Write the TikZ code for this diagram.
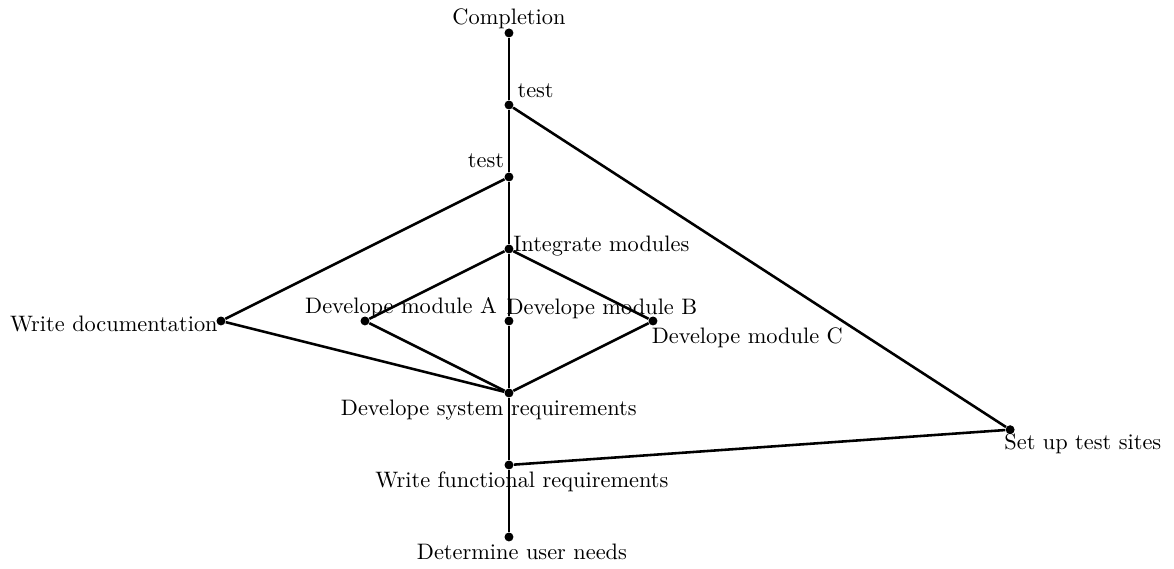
\documentclass[tikz,border=0pt]{standalone}
\usepackage{tikz}
\usetikzlibrary{positioning}

\tikzset{
  task/.style={circle, fill=black, inner sep=0pt, minimum size=4pt},
  tasklabel/.style={inner sep=0pt},
  link/.style={line width=1.15pt}
}

\begin{document}
\begin{tikzpicture}[x=1.1317cm, y=1.1317cm]
                    \useasboundingbox (-7.069,-0.444) rectangle (9.236,7.458);
                    % Task points
                    \node[task] (needs) at (0,0) {};
                    \node[task] (func) at (0,1) {};
                    \node[task] (sysreq) at (0,2) {};
                    \node[task] (modA) at (-2,3) {};
                    \node[task] (modB) at (0,3) {};
                    \node[task] (modC) at (2,3) {};
                    \node[task] (doc) at (-4,3) {};
                    \node[task] (sites) at (6.96,1.49) {};
                    \node[task] (integ) at (0,4) {};
                    \node[task] (testlo) at (0,5) {};
                    \node[task] (testhi) at (0,6) {};
                    \node[task] (done) at (0,7) {};

                    % Links
                    \draw[link] (needs) -- (func) -- (sysreq) -- (modB) -- (integ) -- (testlo) -- (testhi) -- (done);
                    \draw[link] (func) -- (sites) -- (testhi);
                    \draw[link] (sysreq) -- (modA) -- (integ) -- (modC) -- (sysreq);
                    \draw[link] (sysreq) -- (doc) -- (testlo);

                    % Labels
                    \node[tasklabel] (ldone) at (0,7.2) {Completion};
                    \node[tasklabel] (ltesthi) at (0.37,6.2) {test};
                    \node[tasklabel] (ltestlo) at (-0.32,5.22) {test};
                    \node[tasklabel, anchor=west] (linteg) at (0.055,4.04) {Integrate modules};
                    \node[tasklabel] (lmodA) at (-1.5,3.19) {Develope module A};
                    \node[tasklabel] (lmodB) at (1.29,3.17) {Develope module B};
                    \node[tasklabel] (lmodC) at (3.31,2.77) {Develope module C};
                    \node[tasklabel, anchor=east] (ldoc) at (-4.04,2.96) {Write documentation};
                    \node[tasklabel] (lsysreq) at (-0.28,1.77) {Develope system requirements};
                    \node[tasklabel] (lsites) at (7.97,1.29) {Set up test sites};
                    \node[tasklabel] (lfunc) at (0.18,0.77) {Write functional requirements};
                    \node[tasklabel] (lneeds) at (0.18,-0.21) {Determine user needs};
                \end{tikzpicture}
\end{document}
